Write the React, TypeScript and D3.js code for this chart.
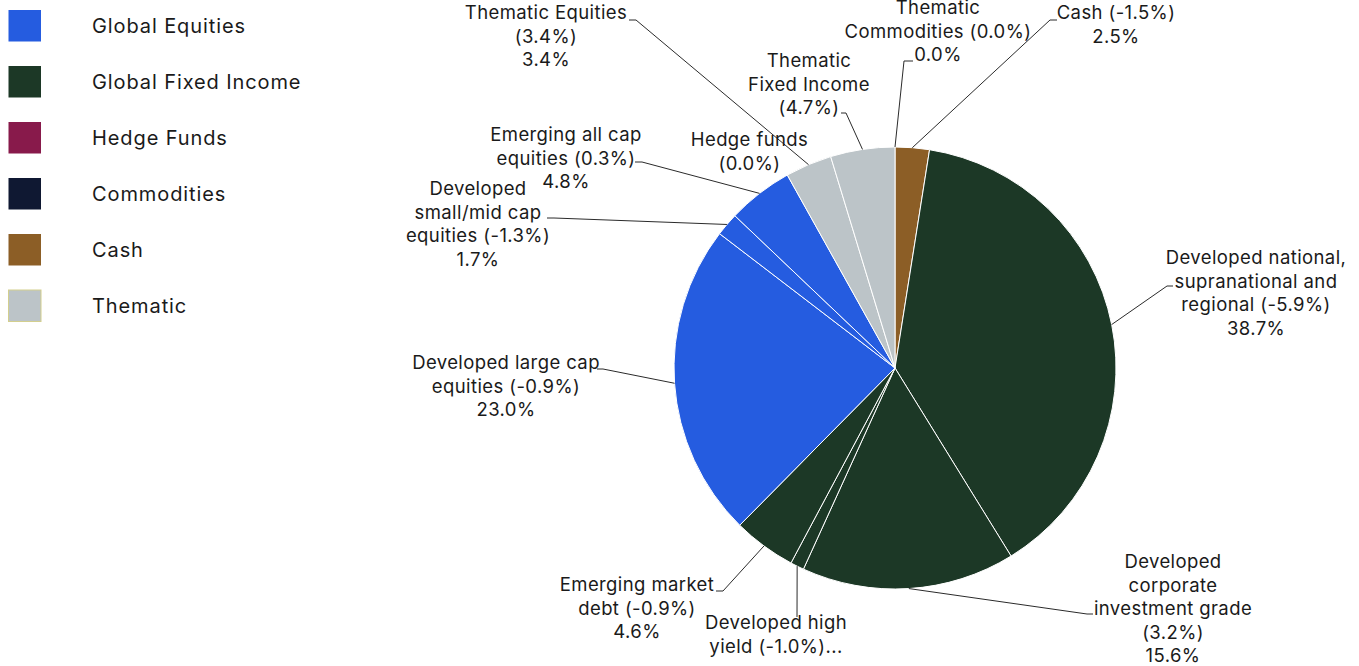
import React from "react";
import * as d3 from "d3";

// ---------- data ----------
const categories = [
  "Cash (-1.5%)",
  "Developed national,\nsupranational and\nregional (-5.9%)",
  "Developed\ncorporate\ninvestment grade\n(3.2%)",
  "Developed high\nyield (-1.0%)",
  "Emerging market\ndebt (-0.9%)",
  "Developed large cap\nequities (-0.9%)",
  "Developed\nsmall/mid cap\nequities (-1.3%)",
  "Emerging all cap\nequities (0.3%)",
  "Hedge funds\n(0.0%)",
  "Thematic Equities\n(3.4%)",
  "Thematic\nFixed Income\n(4.7%)",
  "Thematic\nCommodities (0.0%)",
];
const groups = [
  "Cash",
  "Global Fixed Income",
  "Global Fixed Income",
  "Global Fixed Income",
  "Global Fixed Income",
  "Global Equities",
  "Global Equities",
  "Global Equities",
  "Hedge Funds",
  "Thematic",
  "Thematic",
  "Thematic",
];
const values = [2.5, 38.7, 15.6, 1.0, 4.6, 23.0, 1.7, 4.8, 0.0, 3.4, 4.7, 0.0];
// how each label shows its value: full, truncated ("..."), or name only
const labelModes = ["full", "full", "full", "trunc", "full", "full", "full", "full", "name", "full", "name", "full"];

const legendNames = ["Global Equities", "Global Fixed Income", "Hedge Funds", "Commodities", "Cash", "Thematic"];
const legendColors = ["#255CE0", "#1C3826", "#881A4B", "#0F1832", "#8C5E26", "#BCC4C8"];

// ---------- layout (positions, not data) ----------
const CX = 895;
const CY = 368;
const R = 221;
const LINE_H = 23.5;
// label block: center x, first line center y, connector bend and end point (null = no connector)
const labelLayout: { x: number; y: number; bend: [number, number] | null; end: [number, number] | null }[] = [
  { x: 1116, y: 13, bend: [1050, 20], end: [1057, 20] },
  { x: 1256, y: 258, bend: [1167, 286], end: [1173, 286] },
  { x: 1173, y: 562, bend: [1087, 614], end: [1093, 614] },
  { x: 776, y: 623, bend: [797, 617], end: [797, 617] },
  { x: 637, y: 585, bend: [723, 591], end: [716, 591] },
  { x: 506, y: 363, bend: [603, 369], end: [597, 369] },
  { x: 478, y: 189, bend: [554, 218], end: [547, 218] },
  { x: 566, y: 135, bend: [642, 162], end: [635, 162] },
  { x: 749.5, y: 140, bend: null, end: null },
  { x: 546, y: 13, bend: [636, 20], end: [629, 20] },
  { x: 809, y: 61, bend: [846, 113], end: [841, 113] },
  { x: 938, y: 8, bend: [904, 61], end: [913, 61] },
];

const FONT = "Inter, 'Noto Sans', sans-serif";

export default function App() {
  const colorScale = d3.scaleOrdinal<string, string>().domain(legendNames).range(legendColors);
  const pie = d3
    .pie<number>()
    .sort(null)
    .value((d) => d)
    .startAngle(0)
    .endAngle(2 * Math.PI);
  const arcs = pie(values);
  const arcGen = d3.arc<d3.PieArcDatum<number>>().innerRadius(0).outerRadius(R);

  const legendY = d3.scalePoint<string>().domain(legendNames).range([26, 306]);

  return (
    <div style={{ position: "absolute", left: 0, top: 0 }}>
      <svg width={1359} height={666} style={{ display: "block", overflow: "hidden" }} fontFamily={FONT}>
        <rect width={1359} height={666} fill="#ffffff" />
        {/* legend */}
        {legendNames.map((n, i) => {
          const y = legendY(n)!;
          return (
            <g key={n}>
              <rect
                x={8.5}
                y={y - 16}
                width={32.5}
                height={31.5}
                fill={legendColors[i]}
                stroke={n === "Thematic" ? "#D3CF8E" : "none"}
                strokeWidth={1}
              />
              <text x={92} y={y} dy="0.35em" fontSize={20} letterSpacing={0.9} fill="#1a1a1a">
                {n}
              </text>
            </g>
          );
        })}
        {/* pie */}
        <g transform={`translate(${CX},${CY})`}>
          {arcs.map((a, i) =>
            a.endAngle - a.startAngle > 0 ? (
              <path key={i} d={arcGen(a) || ""} fill={colorScale(groups[i])} stroke="#ffffff" strokeWidth={1} strokeLinejoin="round" />
            ) : null
          )}
        </g>
        {/* connectors */}
        {arcs.map((a, i) => {
          const L = labelLayout[i];
          if (!L.bend || !L.end) return null;
          const mid = (a.startAngle + a.endAngle) / 2;
          const px = CX + R * Math.sin(mid);
          const py = CY - R * Math.cos(mid);
          return (
            <path
              key={"c" + i}
              d={`M${px},${py}L${L.bend[0]},${L.bend[1]}L${L.end[0]},${L.end[1]}`}
              fill="none"
              stroke="#2b2b2b"
              strokeWidth={1}
            />
          );
        })}
        {/* labels */}
        {arcs.map((a, i) => {
          const L = labelLayout[i];
          const lines = categories[i].split("\n");
          if (labelModes[i] === "full") lines.push(d3.format(".1f")(values[i]) + "%");
          if (labelModes[i] === "trunc") lines[lines.length - 1] += "...";
          return (
            <text key={"l" + i} x={L.x} y={L.y} textAnchor="middle" fontSize={18.5} letterSpacing={0.4} fill="#1a1a1a">
              {lines.map((t, j) => (
                <tspan key={j} x={L.x} y={L.y + j * LINE_H} dy="0.35em">
                  {t}
                </tspan>
              ))}
            </text>
          );
        })}
      </svg>
    </div>
  );
}
